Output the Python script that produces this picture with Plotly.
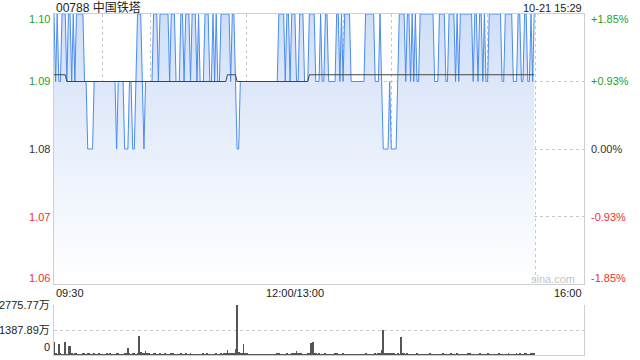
import plotly.graph_objects as go

# ---------------- data ----------------
title_text = "00788 中国铁塔"
stamp_text = "10-21 15:29"
prev_close = 1.08

# price runs: minute index (from 09:30, lunch skipped) where a new price level starts
run_start = [0, 1, 2, 3, 5, 8, 9, 11, 12, 13, 14, 19, 21, 25, 39, 40, 44, 47, 49, 51,
             52, 55, 56, 57, 62, 65, 66, 72, 73, 76, 79, 81, 82, 85, 86, 89, 90, 91, 94, 97,
             99, 100, 101, 102, 104, 110, 111, 113, 114, 116, 140, 144, 145, 147, 148, 151, 153, 156, 159, 163,
             166, 167, 169, 171, 176, 178, 179, 180, 181, 185, 194, 200, 203, 204, 205, 209, 210, 214, 215, 219,
             220, 222, 223, 224, 225, 226, 228, 237, 240, 244, 246, 250, 251, 252, 253, 261, 262, 264, 265, 267,
             268, 269, 271, 279, 281, 286, 289, 291, 293, 295, 297, 298, 299]
run_price = [1.10, 1.09, 1.10, 1.09, 1.10, 1.09, 1.10, 1.09, 1.10, 1.09, 1.10, 1.09, 1.08, 1.09, 1.08, 1.09, 1.08, 1.09, 1.08, 1.09,
             1.10, 1.09, 1.08, 1.09, 1.10, 1.09, 1.10, 1.09, 1.10, 1.09, 1.10, 1.09, 1.10, 1.09, 1.10, 1.09, 1.10, 1.09, 1.10, 1.09,
             1.10, 1.09, 1.10, 1.09, 1.10, 1.09, 1.10, 1.09, 1.08, 1.09, 1.10, 1.09, 1.10, 1.09, 1.10, 1.09, 1.10, 1.09, 1.10, 1.09,
             1.10, 1.09, 1.10, 1.09, 1.10, 1.09, 1.10, 1.09, 1.10, 1.09, 1.10, 1.09, 1.10, 1.09, 1.08, 1.09, 1.08, 1.09, 1.10, 1.09,
             1.10, 1.09, 1.10, 1.09, 1.10, 1.09, 1.10, 1.09, 1.10, 1.09, 1.10, 1.09, 1.10, 1.09, 1.10, 1.09, 1.10, 1.09, 1.10, 1.09,
             1.10, 1.09, 1.10, 1.09, 1.10, 1.09, 1.10, 1.09, 1.10, 1.09, 1.10, 1.09, 1.10]
last_minute = 299

# average-price runs
avg_start = [0, 8, 108, 114, 159]
avg_price = [1.091, 1.090, 1.091, 1.090, 1.091]

# volume per minute (万股)
volume = [
    740, 60, 45, 600, 80, 50, 40, 700, 55, 500, 500, 70, 45, 60, 90, 40, 35, 55, 80, 60, 45, 110, 70, 50, 40, 65, 35, 45, 60, 50,
    40, 55, 35, 60, 45, 80, 50, 40, 35, 120, 60, 45, 50, 40, 90, 70, 400, 60, 55, 100, 80, 45, 60, 1050, 150, 70, 130, 200, 90, 60,
    50, 45, 60, 80, 55, 40, 70, 50, 45, 60, 35, 50, 45, 60, 70, 40, 55, 45, 35, 60, 50, 45, 70, 40, 55, 60, 45, 50, 35, 40,
    55, 45, 40, 60, 50, 70, 45, 40, 35, 55, 45, 60, 50, 40, 65, 45, 80, 120, 300, 90, 70, 60, 130, 350, 2775.77, 160, 90, 70, 600, 80,
    60, 45, 40, 55, 35, 45, 40, 30, 50, 45, 35, 40, 30, 45, 40, 35, 50, 40, 45, 60, 70, 50, 45, 55, 40, 60, 50, 45, 70, 90,
    120, 200, 80, 60, 70, 55, 45, 50, 60, 110, 650, 700, 90, 60, 50, 70, 45, 40, 55, 60, 45, 40, 50, 35, 45, 60, 70, 50, 55, 45,
    60, 50, 45, 40, 55, 35, 40, 45, 30, 40, 35, 45, 40, 50, 60, 55, 45, 50, 40, 45, 60, 50, 70, 90, 280, 1387.89, 120, 90, 70, 60,
    80, 70, 60, 55, 65, 50, 1000, 90, 70, 55, 60, 45, 50, 55, 40, 45, 60, 50, 55, 45, 40, 50, 45, 55, 60, 40, 45, 50, 35, 55,
    50, 45, 60, 40, 55, 50, 45, 70, 40, 45, 55, 60, 45, 40, 50, 45, 55, 40, 60, 130, 45, 55, 40, 50, 45, 60, 55, 40, 45, 50,
    60, 45, 50, 40, 55, 45, 50, 60, 40, 45, 55, 50, 45, 60, 50, 40, 55, 45, 60, 50, 70, 45, 55, 60, 80, 50, 45, 70, 60, 110,
]

price_ticks = [1.10, 1.09, 1.08, 1.07, 1.06]
price_tick_text = ["1.10", "1.09", "1.08", "1.07", "1.06"]
pct_tick_text = ["+1.85%", "+0.93%", "0.00%", "-0.93%", "-1.85%"]
vol_ticks = [2775.77, 1387.89, 0]
vol_tick_text = ["2775.77万", "1387.89万", "0"]
time_ticks = [0, 150, 330]
time_tick_text = ["09:30", "12:00/13:00", "16:00"]
total_minutes = 330

# ---------------- expand runs ----------------
def expand(starts, values, last):
    out = []
    k = 0
    for m in range(last + 1):
        while k + 1 < len(starts) and starts[k + 1] <= m:
            k += 1
        out.append(values[k])
    return out

minutes = list(range(last_minute + 1))
price = expand(run_start, run_price, last_minute)
avg = expand(avg_start, avg_price, last_minute)

GREEN = "#1fa21f"
RED = "#ee3030"
DARK = "#333333"
GRID = "#c8c8c8"
BORDER = "#cfcfcf"
FONT = "Liberation Sans, Arial, Noto Sans CJK SC, sans-serif"

def tick_color(v):
    if v > prev_close + 1e-9:
        return GREEN
    if v < prev_close - 1e-9:
        return RED
    return DARK

fig = go.Figure()

fig.add_trace(go.Scatter(
    x=minutes, y=price, mode="lines", fill="tozeroy",
    line=dict(color="#4a8cf0", width=1),
    fillgradient=dict(type="vertical", start=1.06, stop=1.10,
                      colorscale=[[0, "#ffffff"], [0.5, "#e9f0fc"], [0.75, "#dde7f9"], [1, "#cfdff7"]]),
    hoverinfo="skip", xaxis="x", yaxis="y"))
fig.add_trace(go.Scatter(
    x=minutes, y=avg, mode="lines", line=dict(color="#444444", width=1),
    hoverinfo="skip", xaxis="x", yaxis="y"))
fig.add_trace(go.Bar(
    x=minutes, y=volume[:len(minutes)], marker=dict(color="#555555", line=dict(width=0)),
    width=0.55, hoverinfo="skip", xaxis="x2", yaxis="y2"))

x0, x1 = 54 / 640, 584 / 640
fig.update_layout(
    width=640, height=360, margin=dict(l=0, r=0, t=0, b=0),
    paper_bgcolor="white", plot_bgcolor="rgba(0,0,0,0)", showlegend=False,
    font=dict(family=FONT, size=11, color=DARK),
    bargap=0,
    xaxis=dict(domain=[x0, x1], range=[0, total_minutes], showticklabels=False, ticks="",
               tickvals=list(range(30, 330, 30)), showgrid=True, gridcolor=GRID, griddash="dot", gridwidth=1,
               showline=True, linecolor=BORDER, linewidth=1, mirror=True, zeroline=False, fixedrange=True),
    yaxis=dict(domain=[1 - 284 / 360, 1 - 14 / 360], range=[1.06, 1.10], showticklabels=False, ticks="",
               tickvals=[1.07, 1.08, 1.09], showgrid=True, gridcolor=GRID, griddash="dot", gridwidth=1,
               showline=True, linecolor=BORDER, linewidth=1, mirror=True, zeroline=False, fixedrange=True),
    xaxis2=dict(domain=[x0, x1], range=[0, total_minutes], anchor="y2", showticklabels=False, ticks="",
                showgrid=False, showline=True, linecolor=BORDER, linewidth=1, zeroline=False, fixedrange=True),
    yaxis2=dict(domain=[1 - 355 / 360, 1 - 305 / 360], range=[0, 2775.77], anchor="x2", showticklabels=False,
                ticks="", tickvals=[1387.89, 2775.77], showgrid=True, gridcolor=GRID, griddash="dot",
                showline=True, linecolor=BORDER, linewidth=1, mirror=True, zeroline=False, fixedrange=True),
)

ann = []
# title and timestamp
ann.append(dict(xref="paper", yref="paper", x=x0, y=1 - 7.5 / 360, xanchor="left", yanchor="middle",
                text=title_text, showarrow=False, font=dict(size=12, color="#222222")))
ann.append(dict(xref="paper", yref="paper", x=x1, y=1 - 7.5 / 360, xanchor="right", yanchor="middle",
                text=stamp_text, showarrow=False, font=dict(size=11, color="#222222")))
# price labels (left) and percent labels (right)
for v, t, p in zip(price_ticks, price_tick_text, pct_tick_text):
    shift = -5 if v == price_ticks[0] else (6 if v == price_ticks[-1] else 0)
    c = tick_color(v)
    ann.append(dict(xref="paper", yref="y", x=52 / 640, y=v, yshift=shift, xanchor="right", yanchor="middle",
                    text=t, showarrow=False, font=dict(size=11, color=c)))
    ann.append(dict(xref="paper", yref="y", x=589 / 640, y=v, yshift=shift, xanchor="left", yanchor="middle",
                    text=p, showarrow=False, font=dict(size=11, color=c)))
# time labels
for v, t in zip(time_ticks, time_tick_text):
    anchor = "left" if v == time_ticks[0] else ("right" if v == time_ticks[-1] else "center")
    ann.append(dict(xref="x", yref="paper", x=v, y=1 - 293 / 360, xanchor=anchor, yanchor="middle",
                    text=t, showarrow=False, font=dict(size=11, color="#222222")))
# volume labels
for v, t in zip(vol_ticks, vol_tick_text):
    ann.append(dict(xref="paper", yref="y2", x=52 / 640, y=v, xanchor="right",
                    yanchor="bottom" if v == 0 else "middle",
                    text=t, showarrow=False, font=dict(size=11, color="#222222")))
# watermark
ann.append(dict(xref="paper", yref="paper", x=553 / 640, y=1 - 279 / 360, xanchor="center", yanchor="middle",
                text="sina.com", showarrow=False, font=dict(size=11, color="#c4c4c4")))
fig.update_layout(annotations=ann)

fig.write_html("out.html")
